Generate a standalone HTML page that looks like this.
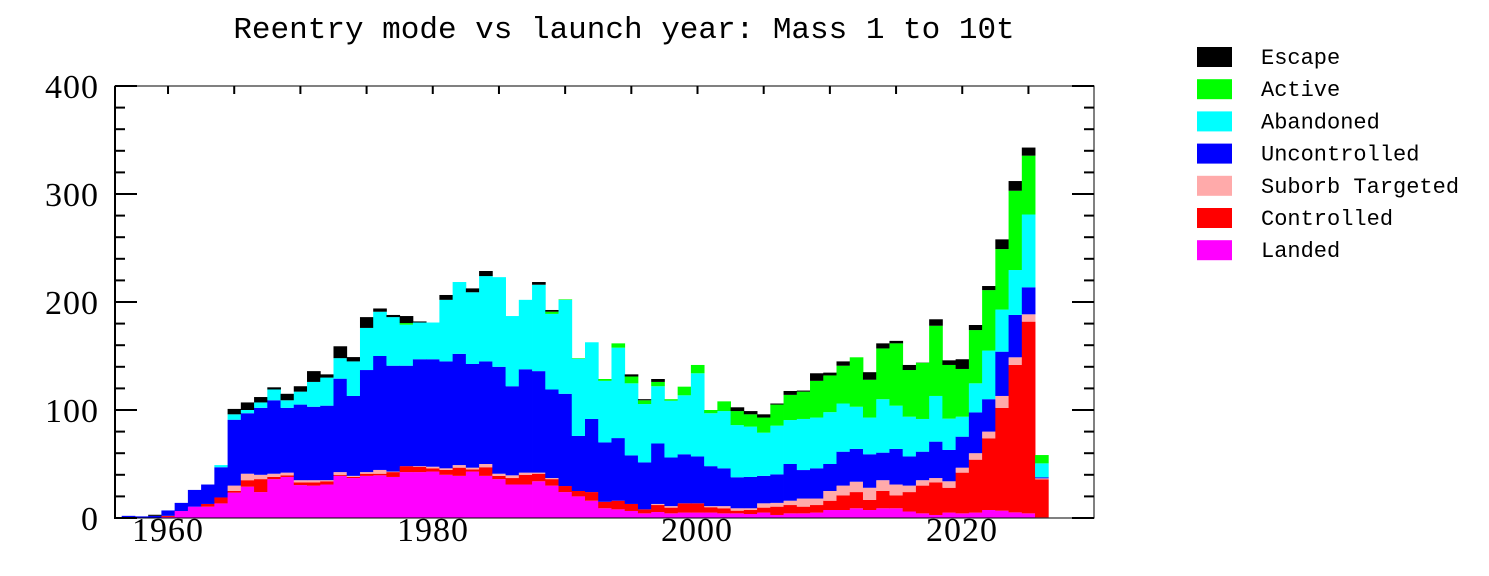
<!DOCTYPE html>
<html><head><meta charset="utf-8"><style>
html,body{margin:0;padding:0;background:#fff;}
svg{display:block;}
</style></head><body>
<svg id="c" width="1489" height="576" xmlns="http://www.w3.org/2000/svg">
<rect width="1489" height="576" fill="#fff"/>
<text x="624" y="38" text-anchor="middle" font-family="Liberation Mono, monospace" font-size="31" fill="#000">Reentry mode vs launch year: Mass 1 to 10t</text>
<g id="bars"></g>
<g id="axes" stroke="#000" fill="none"></g>
<g font-family="Liberation Serif, serif" font-size="34" fill="#000" text-anchor="end" letter-spacing="1">
<text x="99" y="98">400</text>
<text x="99" y="206">300</text>
<text x="99" y="314">200</text>
<text x="99" y="422">100</text>
<text x="99" y="530">0</text>
</g>
<g font-family="Liberation Serif, serif" font-size="34" fill="#000" text-anchor="middle" letter-spacing="1">
<text x="168" y="541">1960</text>
<text x="433" y="541">1980</text>
<text x="697" y="541">2000</text>
<text x="962" y="541">2020</text>
</g>
<g id="legend" font-family="Liberation Mono, monospace" font-size="22" fill="#000"></g>
</svg>
<script>
var D=[
[0,0,0,2,2,2,2],[0,0,0,1.5,1.5,1.5,1.5],[0,0,0,2,2,2,3],[1,2,2,7,7,7,7],[6.5,6.5,6.5,14,14,14,14],
[10.5,10.5,10.5,26,26,26,26],[10.5,13,13,31,31,31,31],[13.5,19,19,47,49,49,49],[23.5,25,30,91,96,96,101],
[29,35,41,97,100,100,107],[24,36,40,102,107,107,112],[36,38,41,109,119,119,121],[38,39.5,42,102,109,109,115],
[30.5,33,35,105,117,117,122],[30,33,35,103,126,126,136],[31,34,35,104,130,130,133],[39,40,42.5,129,148,148,159],
[37,38,39,113,145,145,149],[39,41,42.5,137,176,176,186],[39.5,41,44.5,150,191,191,194],[38,42.5,43,141,186,186,188],
[42.5,48,48,141,179,180.5,187],[42.5,47.5,48,147,181,181,182],[43,46,47.5,147,181,181,181],[40,44.5,46,145,202,202,206.5],
[39,46.6,49,152,218.5,218.5,218.5],[43,45,46.6,142.6,209,209,212.6],[39,47,50,145,224,224,228.7],[36,39,41,140,223,223,223],
[31,37,39.5,122,187,187,187],[31,40,42,137.7,202,202,202],[34,41,42,136,216,216,218.5],[30,36,37,119,189,191,192.6],
[24,29.6,29.6,115,202,202.5,202.5],[20,25,25,76,147.5,148,148],[16,24,24,91.7,162.7,162.7,162.7],[9,15,15,70,127,128.7,128.7],
[8,16,16,74,157.7,161.7,161.7],[6.5,13,13,58,124.7,131,133],[4.3,8,8,51.5,105.5,109,110],[5.5,12,13,69,122,126,128.7],
[4.3,9.6,11,56,108.6,110,110],[5,13.6,13.6,59,113.6,121.6,121.6],[5,13.6,13.6,57,134,141.7,141.7],[5,10,11,48,97,100,100],
[4.3,9,11,46,99,108,108],[4.3,6.8,9,37.7,86,99,102.5],[3.7,7.4,9,38,84.6,96,99],[5,9.6,13.6,39,79,93,96],
[2.8,10.5,14,40.4,85.5,105,106],[4.3,12,16,50,90.7,114,117.6],[4.3,10.5,18,44.4,91.7,117,118],[5,12,18,46,93,127,134],
[7.4,16,25,50,98,132,134.6],[7.4,21,30,61.4,106,141,145],[9,24,33.6,64,103,148.8,148.8],[7.4,16.7,28,59,93,128,135],
[9,25,35,60.5,110,157,161.7],[9,21,31,64,104,161.7,164],[6,24,30,57,93.8,137,141.7],[4.3,30,35,61.4,91.7,143.8,144],
[2.8,33,37,70.7,113,178,184],[5,28,34,63,92,141.7,146],[4.3,42,46.6,75.3,93.8,138,147],[5,54,60,97.8,124.7,174,178.7],
[7.4,73.8,80,110,155,211,214.8],[6.8,102,113,154,193,249,258],[5.2,141.7,148.8,188,229.6,303,312],
[4.3,181.8,188.6,213.6,281,335.5,343],[0.6,35.8,36.7,37.7,50.6,58.3,58.3]];
var C=["#ff00ff","#ff0000","#ffaaaa","#0000ff","#00ffff","#00ff00","#000000"];
var NS="http://www.w3.org/2000/svg";
function el(p,t,a){var e=document.createElementNS(NS,t);for(var k in a)e.setAttribute(k,a[k]);p.appendChild(e);return e;}
var bars=document.getElementById("bars"),W=13.237,X0=121.7;
function Y(v){return 518-v*1.08;}
for(var i=0;i<D.length;i++){var prev=0,x=X0+W*i;
 for(var j=0;j<7;j++){var v=D[i][j];if(v>prev){el(bars,"rect",{x:x.toFixed(2),y:Y(v).toFixed(2),width:(W+0.4).toFixed(2),height:((v-prev)*1.08).toFixed(2),fill:C[j]});}if(v>prev)prev=v;}}
var ax=document.getElementById("axes");
el(ax,"rect",{x:115,y:86,width:979,height:432,"stroke-width":1});
el(ax,"line",{x1:115,y1:86,x2:115,y2:519,"stroke-width":2});
for(var v=0;v<=400;v+=20){var y=Y(v),L=(v%100==0)?22:10;
 el(ax,"line",{x1:115,y1:y,x2:115+L,y2:y,"stroke-width":2});
 el(ax,"line",{x1:1094,y1:y,x2:1094-L,y2:y,"stroke-width":2});}
for(var yr=1960;yr<=2025;yr+=5){var x=X0+W*(yr-1957+0.5);
 el(ax,"line",{x1:x,y1:86,x2:x,y2:94,"stroke-width":2});}
var lg=document.getElementById("legend");
var names=["Escape","Active","Abandoned","Uncontrolled","Suborb Targeted","Controlled","Landed"];
var lc=["#000000","#00ff00","#00ffff","#0000ff","#ffaaaa","#ff0000","#ff00ff"];
for(var k=0;k<7;k++){var cy=57+32.2*k;
 el(lg,"rect",{x:1197,y:(cy-10).toFixed(1),width:35,height:20,fill:lc[k]});
 var t=el(lg,"text",{x:1261,y:(cy+7).toFixed(1)});t.textContent=names[k];}
</script>
</body></html>
